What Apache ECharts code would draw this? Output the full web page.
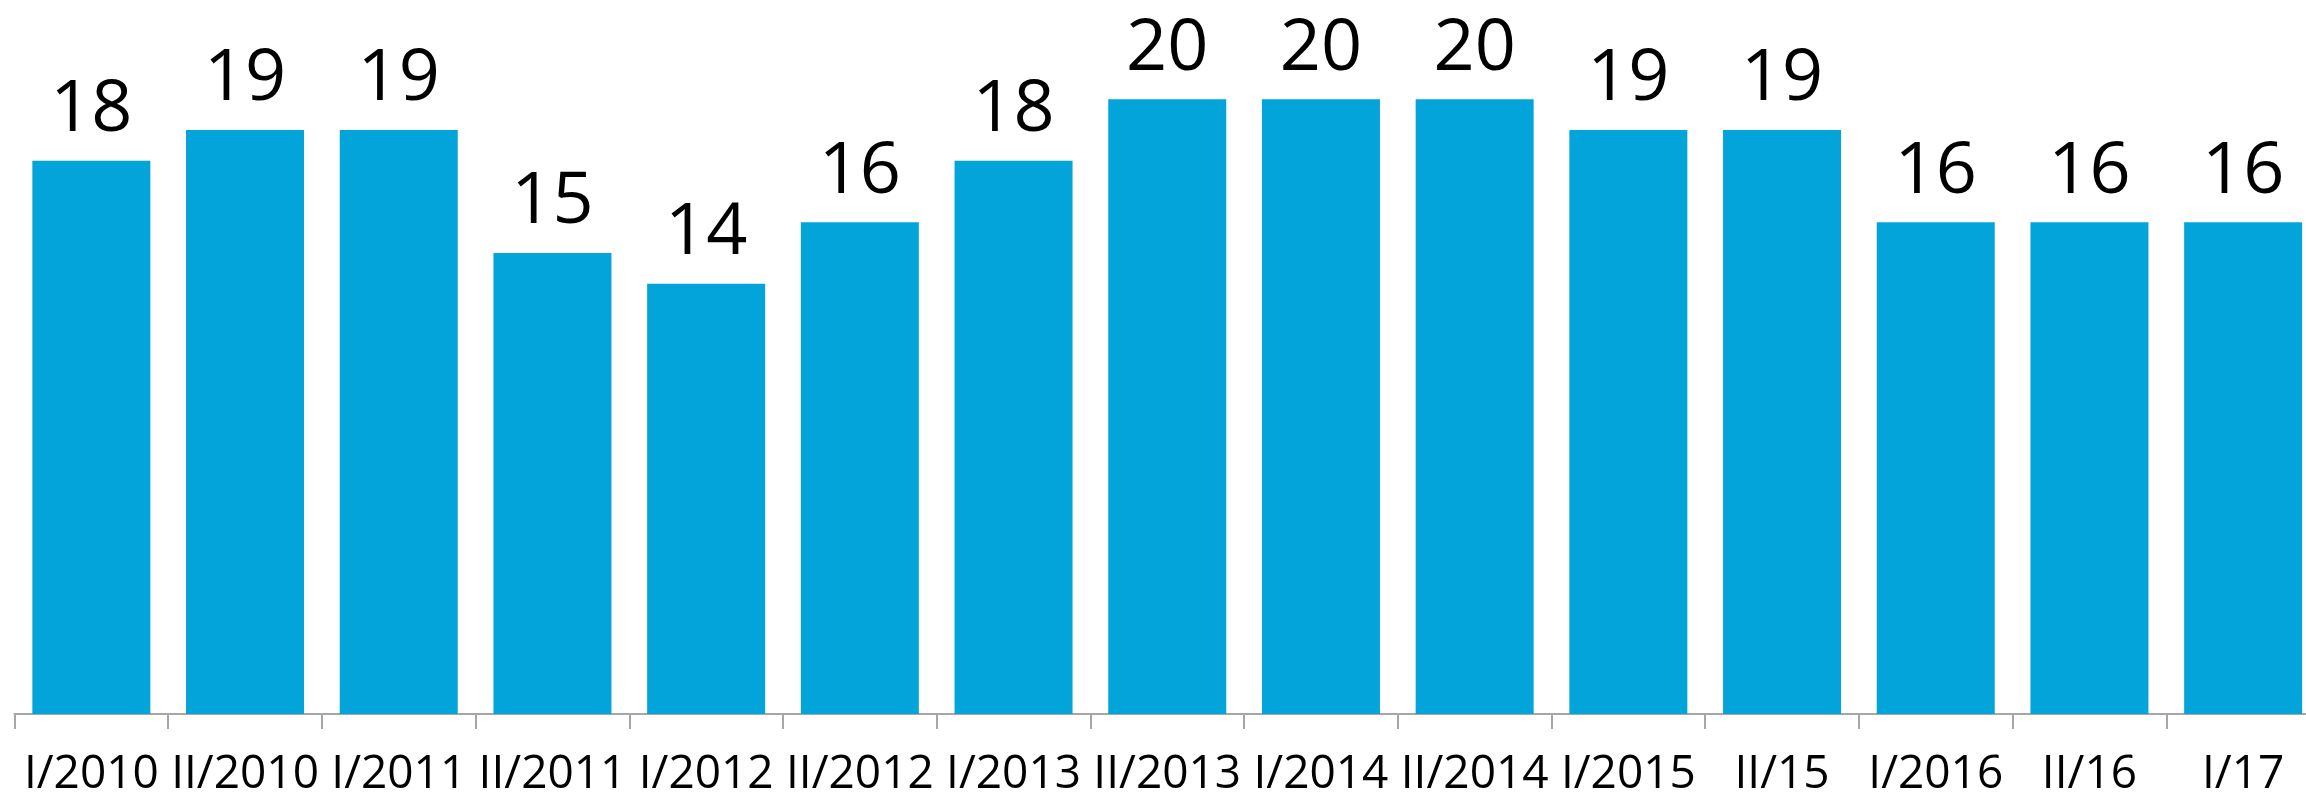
<!DOCTYPE html>
<html>
<head>
<meta charset="utf-8">
<script src="https://cdn.jsdelivr.net/npm/echarts@6/dist/echarts.min.js"></script>
<style>
  html, body { margin: 0; padding: 0; background: #fff; overflow: hidden; }
  /* the last category runs a bit past the right edge, as in the original */
  #chart1 { width: 2320px; height: 798px; }
</style>
</head>
<body>
<div id="chart1"></div>
<script>
  // half-year periods
  var categories = ['I/2010', 'II/2010', 'I/2011', 'II/2011', 'I/2012', 'II/2012', 'I/2013', 'II/2013',
                    'I/2014', 'II/2014', 'I/2015', 'II/15', 'I/2016', 'II/16', 'I/17'];
  var values = [18, 19, 19, 15, 14, 16, 18, 20, 20, 20, 19, 19, 16, 16, 16];

  var myChart = echarts.init(document.getElementById('chart1'));
  myChart.setOption({
    animation: false,
    grid: {
      left: 14.5,
      right: 0,
      top: 7,
      bottom: 79
    },
    xAxis: {
      type: 'category',
      data: categories,
      axisLine: { lineStyle: { color: '#a6a6a6', width: 2 } },
      axisTick: { show: true, length: 15, lineStyle: { color: '#a6a6a6', width: 2 } },
      axisLabel: {
        interval: 0,
        margin: 38,
        color: '#000',
        fontFamily: 'Open Sans',
        fontSize: 46
      }
    },
    yAxis: {
      type: 'value',
      min: 0,
      max: 23,
      show: false,
      splitLine: { show: false }
    },
    series: [
      {
        type: 'bar',
        data: values,
        barWidth: 118,
        itemStyle: { color: '#02a4da' },
        label: {
          show: true,
          position: 'top',
          distance: 14,
          color: '#000',
          fontFamily: 'Open Sans',
          fontSize: 72
        }
      }
    ]
  });
</script>
</body>
</html>
